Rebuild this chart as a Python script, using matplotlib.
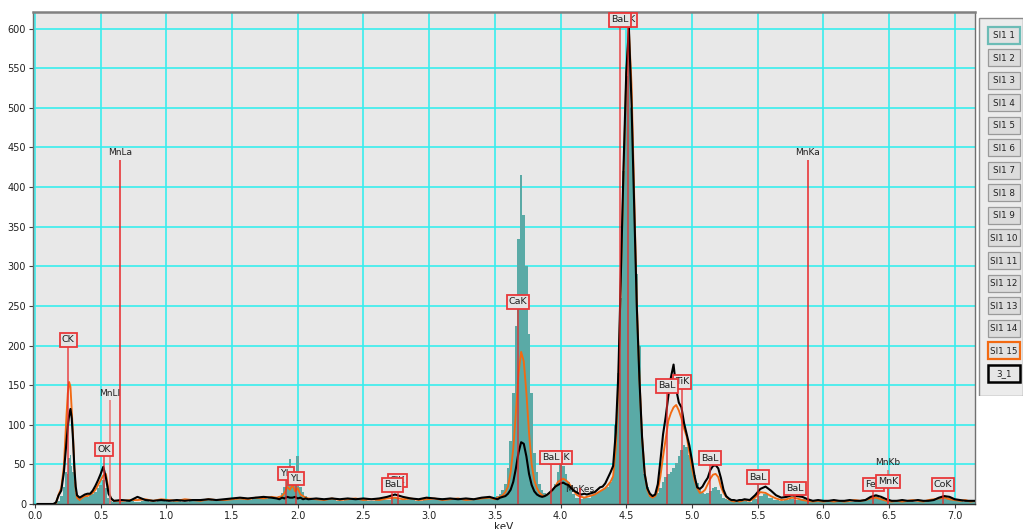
import numpy as np
import matplotlib
matplotlib.use("Agg")
import matplotlib.pyplot as plt
from matplotlib.patches import Rectangle

# ---------------- spectrum channels (keV) ----------------
energy = np.concatenate([
    [0.02, 0.08, 0.14],
    [0.16, 0.18, 0.20, 0.22, 0.24, 0.25, 0.26, 0.27, 0.28, 0.29, 0.30, 0.31, 0.32,
     0.34, 0.36, 0.38, 0.40, 0.42, 0.44, 0.46, 0.48, 0.50, 0.52, 0.54, 0.56, 0.58, 0.60],
    np.arange(0.66, 1.81, 0.06),
    np.arange(1.84, 2.09, 0.02),
    np.arange(2.14, 3.47, 0.06),
    np.arange(3.48, 5.41, 0.02),
    np.arange(5.44, 7.17, 0.04),
]).round(2)

# counts, spectrum "SI1 1" (filled)
si1_1 = [
    0, 0, 0,
    0, 4, 10, 22, 40, 38, 58, 62, 48, 40, 28, 14, 8, 5, 8, 10, 9, 11, 12, 15, 20, 24, 30, 20, 8, 4, 3,
    3, 4, 3, 4, 3, 4, 3, 4, 3, 4, 4, 5, 4, 5, 5, 6, 5, 7, 6, 8,
    8, 10, 14, 22, 30, 57, 25, 35, 60, 22, 15, 10, 8,
    6, 5, 8, 4, 6, 5, 7, 4, 6, 5, 8, 5, 6, 4, 6, 5, 7, 5, 6, 5, 6, 8, 9,
    8, 7, 10, 12, 18, 25, 45, 80, 140, 225,
    335, 415, 365, 300, 215, 140, 65, 40, 25, 18,
    14, 12, 14, 18, 25, 40, 52, 48, 38, 28,
    18, 12, 8, 7, 6, 8, 7, 8, 10, 12,
    14, 16, 18, 20, 22, 28, 34, 100, 165, 260,
    420, 540, 605, 500, 400, 290, 200, 95, 38, 22,
    12, 10, 10, 14, 20, 28, 34, 38, 40, 45,
    52, 60, 68, 74, 72, 62, 50, 36, 26, 18,
    14, 12, 14, 16, 20, 22, 18, 12, 8, 6,
    5, 4, 5, 4, 5, 4, 5,
    3, 6, 10, 12, 8, 5, 4, 5, 6, 5, 6, 4, 3, 4, 3, 2, 3, 2, 3, 2, 3, 4,
    5, 8, 10, 8, 5, 3, 2, 3, 2, 3, 2, 3, 4, 5, 8, 10, 8, 5, 4, 3, 3, 3,
]

# counts, spectrum "SI1 15"
si1_15 = [
    0, 0, 0,
    1, 12, 20, 48, 112, 140, 154, 148, 118, 85, 45, 18, 8, 5, 8, 10, 10, 12, 14, 18, 24, 30, 36, 38, 18, 6, 4,
    4, 5, 5, 6, 4, 6, 5, 4, 6, 5, 4, 6, 5, 5, 6, 7, 6, 8, 7, 9,
    8, 9, 10, 14, 22, 18, 24, 16, 20, 12, 10, 8, 7,
    6, 5, 7, 5, 6, 7, 5, 6, 5, 7, 8, 6, 7, 5, 6, 7, 5, 6, 7, 5, 6, 7, 8,
    7, 6, 8, 9, 11, 15, 22, 40, 70, 115,
    165, 192, 180, 140, 90, 50, 30, 20, 14, 11,
    10, 12, 14, 18, 22, 28, 30, 32, 30, 27,
    22, 17, 12, 10, 9, 8, 9, 10, 11, 12,
    14, 16, 18, 20, 24, 28, 35, 70, 150, 290,
    420, 540, 598, 530, 390, 255, 160, 85, 40, 18,
    10, 8, 10, 17, 35, 60, 82, 105, 115, 122,
    125, 118, 108, 95, 85, 65, 45, 30, 20, 14,
    15, 18, 25, 32, 37, 38, 34, 22, 14, 9,
    6, 4, 3, 4, 3, 4, 5,
    4, 8, 15, 14, 10, 7, 5, 6, 8, 7, 5, 4, 3, 4, 3, 4, 3, 4, 3, 4, 5, 4,
    5, 7, 8, 6, 4, 3, 4, 3, 4, 5, 4, 3, 5, 6, 7, 8, 6, 5, 4, 5, 3, 4,
]

# counts, spectrum "3_1"
s3_1 = [
    0, 0, 0,
    2, 11, 17, 40, 78, 98, 112, 120, 108, 80, 45, 22, 11, 8, 10, 12, 13, 13, 17, 23, 30, 38, 47, 33, 13, 7, 4,
    5, 4, 9, 5, 4, 5, 4, 5, 4, 5, 5, 6, 5, 6, 7, 8, 7, 8, 9, 8,
    7, 6, 8, 7, 9, 8, 8, 9, 7, 8, 6, 7, 6,
    7, 6, 7, 6, 7, 6, 7, 6, 7, 9, 12, 9, 7, 6, 8, 7, 6, 7, 6, 7, 6, 8, 9,
    8, 7, 6, 8, 9, 10, 13, 18, 28, 45,
    65, 78, 76, 60, 38, 24, 16, 12, 10, 9,
    10, 12, 15, 18, 22, 24, 26, 27, 25, 24,
    20, 17, 15, 13, 12, 13, 12, 13, 14, 15,
    18, 21, 22, 26, 33, 40, 48, 90, 165, 300,
    430, 545, 601, 505, 380, 250, 158, 85, 38, 20,
    13, 10, 12, 25, 55, 88, 110, 136, 160, 176,
    145, 128, 122, 102, 88, 74, 55, 35, 21, 19,
    22, 28, 33, 43, 48, 49, 45, 33, 18, 10,
    7, 5, 5, 4, 5, 5, 6,
    5, 11, 19, 22, 17, 11, 8, 9, 11, 10, 9, 6, 4, 5, 4, 4, 5, 4, 4, 5, 4, 4,
    5, 9, 11, 9, 6, 4, 4, 5, 4, 4, 5, 4, 4, 5, 8, 10, 9, 6, 5, 4, 4, 4,
]

# ---------------- element markers ----------------
# boxed markers (later entries sit on top of earlier ones)
box_energy = [0.253, 0.527, 1.910, 1.986, 2.760, 2.720, 3.676, 4.003, 3.927,
              4.513, 4.452, 4.924, 4.810, 5.137, 5.502, 5.784, 6.380, 6.490, 6.910]
box_label = ["CK", "OK", "YL", "YL", "ClK", "BaL", "CaK", "CaK", "BaL",
             "TiK", "BaL", "TiK", "BaL", "BaL", "BaL", "BaL", "FeK", "MnK", "CoK"]
box_height = [207, 69, 38, 32, 30, 24, 255, 59, 59,
              611, 611, 154, 149, 58, 34, 20, 25, 28, 25]

# plain-text markers
line_energy = [0.571, 0.649, 4.148, 5.883, 6.490]
line_label = ["MnLl", "MnLa", "MnKes", "MnKa", "MnKb"]
line_top = [131, 434, 20, 434, 43]
line_text_y = [140, 444, 18, 444, 53]

# legend entries
legend_names = ["SI1 1", "SI1 2", "SI1 3", "SI1 4", "SI1 5", "SI1 6", "SI1 7", "SI1 8",
                "SI1 9", "SI1 10", "SI1 11", "SI1 12", "SI1 13", "SI1 14", "SI1 15", "3_1"]

# ---------------- drawing ----------------
W, H = 1024, 529
fig = plt.figure(figsize=(W / 100, H / 100), dpi=100)
fig.patch.set_facecolor("white")

ax = fig.add_axes([33 / W, (H - 504) / H, (975 - 33) / W, (504 - 12) / H])
ax.set_facecolor("#e8e8e8")
ax.set_xlim(-0.015, 7.154)
ax.set_ylim(0, 621)

ax.set_xticks(np.arange(0, 7.01, 0.5))
ax.set_xticklabels([f"{v:.1f}" for v in np.arange(0, 7.01, 0.5)])
ax.set_yticks(np.arange(0, 601, 50))
ax.tick_params(axis="both", direction="out", length=3, width=0.8, color="#404040",
               labelsize=7, pad=2, labelcolor="#202020")
ax.grid(True, color="#38eeee", linewidth=1.2, zorder=0)
ax.set_axisbelow(True)
for side, sp in ax.spines.items():
    sp.set_color("#707070")
    sp.set_linewidth(1.0)
ax.spines["top"].set_linewidth(1.8)
ax.spines["top"].set_color("#808080")
ax.spines["bottom"].set_color("#303030")

teal = "#5aaaa6"
orange = "#f26a12"

ax.fill_between(energy, si1_1, step="mid", color=teal, linewidth=0, zorder=1)
ax.plot(energy, si1_15, color=orange, linewidth=1.35, zorder=2)
ax.plot(energy, s3_1, color="black", linewidth=1.5, zorder=3)

red = "#e8282a"
for e, lab, top, ty in zip(line_energy, line_label, line_top, line_text_y):
    col = "#e87070" if lab in ("MnLl", "MnKb") else red
    ax.vlines(e, 0, top, color=col, linewidth=1.1, zorder=4)
    ax.text(e, ty, lab, ha="center", va="center", fontsize=6.5, color="#202020",
            zorder=2.5 if lab == "MnKes" else 6)

for e, lab, h in zip(box_energy, box_label, box_height):
    ax.vlines(e, 0, h, color=red, linewidth=1.1, alpha=0.85, zorder=4)
    ax.text(e, h, lab, ha="center", va="center", fontsize=6.8, color="#202020", zorder=5,
            bbox=dict(boxstyle="square,pad=0.22", facecolor="#e4e4e4",
                      edgecolor="#e8383a", linewidth=1.3))

fig.text(504 / W, 1 - 527 / H, "keV", ha="center", va="center", fontsize=7.5, color="#202020")

# ---------------- series selector panel ----------------
lg = fig.add_axes([978 / W, (H - 396) / H, 45 / W, (396 - 17) / H])
lg.set_xlim(0, 45)
lg.set_ylim(379, 0)
lg.axis("off")
lg.add_patch(Rectangle((0.5, 0.5), 44, 378, facecolor="#ececec", edgecolor="#8a8a8a",
                       linewidth=1.0))
for i, name in enumerate(legend_names):
    cy = 35 + 22.55 * i - 17
    if name == "SI1 1":
        ec, lw, fc = "#6cbcb6", 1.6, "#e2e2e2"
    elif name == "SI1 15":
        ec, lw, fc = orange, 1.6, "#e2e2e2"
    elif name == "3_1":
        ec, lw, fc = "black", 1.8, "#e6e6e6"
    else:
        ec, lw, fc = "#9a9a9a", 0.9, "#dcdcdc"
    lg.add_patch(Rectangle((10, cy - 8.5), 32, 17, facecolor=fc, edgecolor=ec, linewidth=lw))
    lg.text(26, cy + 0.5, name, ha="center", va="center", fontsize=6.3, color="#202020")

fig.savefig("out.png", dpi=100)
